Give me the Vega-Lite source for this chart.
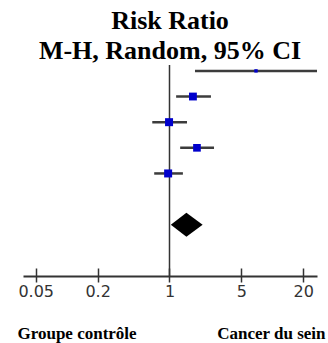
{
  "$schema": "https://vega.github.io/schema/vega-lite/v6.json",
  "autosize": "none",
  "width": 294,
  "height": 211,
  "padding": {"left": 23, "top": 65, "right": 11, "bottom": 67},
  "background": "white",
  "config": {"view": {"stroke": null}},
  "title": {
    "text": ["Risk Ratio", "M-H, Random, 95% CI"],
    "font": "Liberation Serif",
    "fontSize": 26,
    "fontWeight": "bold",
    "color": "black",
    "anchor": "middle",
    "lineHeight": 30,
    "offset": 0
  },
  "datasets": {
    "studies": [
      {"study": 1, "lo": 1.77, "est": 6.94, "hi": 30, "weight": 4.5},
      {"study": 2, "lo": 1.16, "est": 1.69, "hi": 2.53, "weight": 24},
      {"study": 3, "lo": 0.68, "est": 0.99, "hi": 1.48, "weight": 25},
      {"study": 4, "lo": 1.27, "est": 1.85, "hi": 2.71, "weight": 23},
      {"study": 5, "lo": 0.71, "est": 0.97, "hi": 1.35, "weight": 25}
    ],
    "pooled": [
      {"x": 1.03, "top": 7, "bottom": 7},
      {"x": 1.46, "top": 6.53, "bottom": 7.47},
      {"x": 2.1, "top": 7, "bottom": 7}
    ],
    "ref": [{"x": 1}]
  },
  "layer": [
    {
      "data": {"name": "ref"},
      "mark": {"type": "rule", "color": "#333333", "strokeWidth": 1.5},
      "encoding": {
        "x": {
          "field": "x", "type": "quantitative",
          "scale": {"type": "log", "domain": [0.0376, 27.2], "nice": false, "zero": false},
          "axis": {
            "orient": "bottom",
            "values": [0.05, 0.2, 1, 5, 20],
            "domain": false,
            "labels": false,
            "grid": false,
            "ticks": true,
            "tickSize": -8,
            "tickColor": "#333333",
            "tickWidth": 1.5,
            "title": "Cancer du sein",
            "titleFont": "Liberation Serif",
            "titleFontSize": 17,
            "titleFontWeight": "bold",
            "titleColor": "black",
            "titleX": 302,
            "titleY": 62,
            "titleAlign": "right",
            "titleBaseline": "alphabetic"
          }
        }
      }
    },
    {
      "data": {"name": "studies"},
      "mark": {"type": "rule", "color": "#3c3c3c", "strokeWidth": 2.5, "clip": true},
      "encoding": {
        "x": {
          "field": "lo", "type": "quantitative",
          "axis": {
            "orient": "bottom",
            "values": [0.05, 0.2, 1, 5, 20],
            "format": "~g",
            "domain": true,
            "domainColor": "#333333",
            "domainWidth": 2,
            "grid": false,
            "tickSize": 6,
            "tickColor": "#333333",
            "tickWidth": 1.5,
            "labelFont": "DejaVu Sans",
            "labelFontSize": 16,
            "labelColor": "#333333",
            "labelPadding": 1,
            "labelFlush": false,
            "title": "Groupe contrôle",
            "titleFont": "Liberation Serif",
            "titleFontSize": 17,
            "titleFontWeight": "bold",
            "titleColor": "black",
            "titleX": -6,
            "titleY": 62,
            "titleAlign": "left",
            "titleBaseline": "alphabetic"
          }
        },
        "x2": {"field": "hi"},
        "y": {
          "field": "study", "type": "quantitative",
          "scale": {"domain": [0.77, 9.0], "reverse": true, "nice": false, "zero": false},
          "axis": null
        }
      }
    },
    {
      "data": {"name": "studies"},
      "mark": {"type": "square", "color": "#0000CC", "opacity": 1, "filled": true},
      "encoding": {
        "x": {"field": "est", "type": "quantitative", "axis": null},
        "y": {"field": "study", "type": "quantitative", "axis": null},
        "size": {
          "field": "weight", "type": "quantitative",
          "scale": {"domain": [0, 25], "range": [0, 64], "zero": true},
          "legend": null
        }
      }
    },
    {
      "data": {"name": "pooled"},
      "mark": {"type": "area", "color": "black", "opacity": 1, "interpolate": "linear"},
      "encoding": {
        "x": {"field": "x", "type": "quantitative", "axis": null},
        "y": {"field": "top", "type": "quantitative", "axis": null},
        "y2": {"field": "bottom"}
      }
    }
  ],
  "resolve": {"axis": {"x": "independent"}}
}
